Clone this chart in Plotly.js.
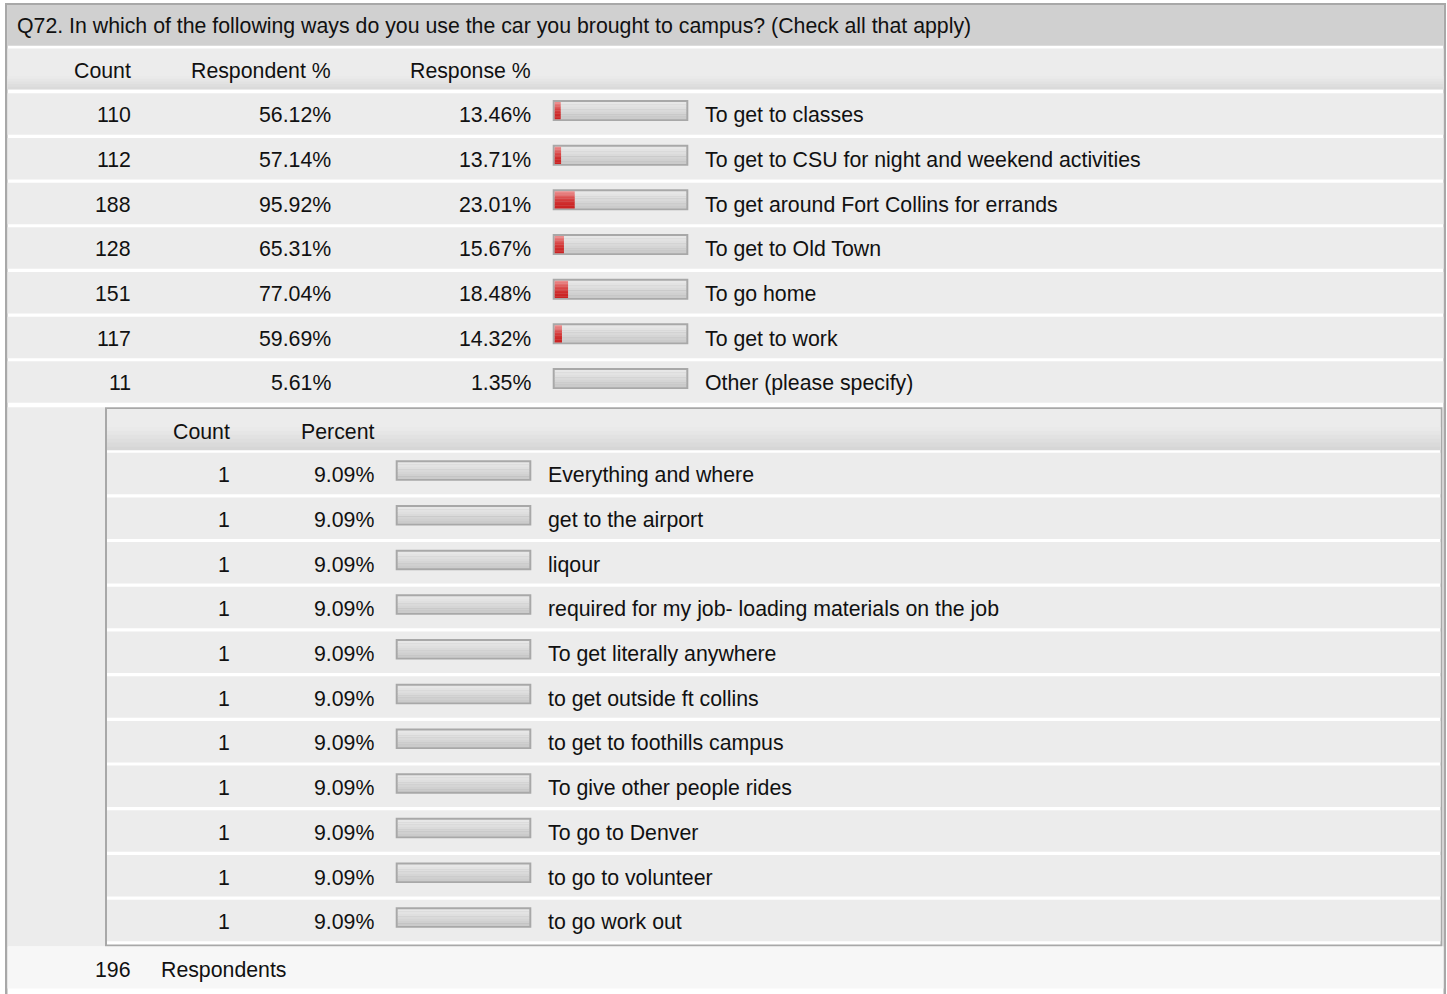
<!DOCTYPE html>
<html><head><meta charset="utf-8">
<script src="https://cdn.plot.ly/plotly-3.0.1.min.js"></script>
<style>html,body{margin:0;padding:0;background:#fff;}#chart{width:1447px;height:994px;}</style>
</head><body><div id="chart"></div>
<script>
// ---------------- data ----------------
const questionTitle = "Q72. In which of the following ways do you use the car you brought to campus? (Check all that apply)";
const mainHeaders = ["Count", "Respondent %", "Response %"];
const mainLabels = ["To get to classes", "To get to CSU for night and weekend activities", "To get around Fort Collins for errands", "To get to Old Town", "To go home", "To get to work", "Other (please specify)"];
const mainCounts = [110, 112, 188, 128, 151, 117, 11];
const respondentPct = [56.12, 57.14, 95.92, 65.31, 77.04, 59.69, 5.61];
const responsePct = [13.46, 13.71, 23.01, 15.67, 18.48, 14.32, 1.35];
const otherHeaders = ["Count", "Percent"];
const otherLabels = ["Everything and where", "get to the airport", "liqour", "required for my job- loading materials on the job", "To get literally anywhere", "to get outside ft collins", "to get to foothills campus", "To give other people rides", "To go to Denver", "to go to volunteer", "to go work out"];
const otherCounts = [1, 1, 1, 1, 1, 1, 1, 1, 1, 1, 1];
const otherPct = [9.09, 9.09, 9.09, 9.09, 9.09, 9.09, 9.09, 9.09, 9.09, 9.09, 9.09];
const respondentsTotal = 196;
const footerLabel = "Respondents";

// ---------------- layout helpers ----------------
const W = 1447, H = 994;
const px = x => x / W;
const py = y => 1 - y / H;
const FONT = {family: '"Liberation Sans", Arial, sans-serif', size: 21.3, color: '#111'};
const BORDER = '#a8a8a8';
const ROW = '#ececec';
const fmtPct = v => v.toFixed(2) + '%';

const shapes = [];
function rect(x0, y0, x1, y1, color) {
  shapes.push({type: 'rect', xref: 'paper', yref: 'paper', layer: 'below',
    x0: px(x0), x1: px(x1), y0: py(y1), y1: py(y0), fillcolor: color, line: {width: 0}});
}
function gradRect(x0, y0, x1, y1, colors) {
  const h = (y1 - y0) / colors.length;
  colors.forEach((c, k) => rect(x0, y0 + k * h, x1, y0 + (k + 1) * h + 0.3, c));
}

// outer frame
rect(5, 3, 1446, 994, BORDER);
rect(7.5, 5, 1443.5, 994, '#ffffff');
// title band
rect(7.5, 5, 1443.5, 45.7, '#d0d0d0');
// header band
rect(7.5, 48.5, 1443.5, 89.3, ROW);
gradRect(7.5, 76, 1443.5, 89.3, ['#eaeaea', '#e6e6e6', '#e2e2e2', '#dedede', '#dadada']);

const mainPitch = 44.67, mainTop = 93.3, band = 41.5;
mainLabels.forEach((_, i) => rect(7.5, mainTop + i * mainPitch, 1443.5, mainTop + i * mainPitch + band, ROW));

// nested block
rect(7.5, 407.3, 105, 946.5, ROW);
rect(105, 407.3, 1442.5, 946.5, BORDER);
rect(107, 409.3, 1440.5, 944.5, '#ffffff');
rect(107, 409.3, 1440.5, 450, ROW);
gradRect(107, 427, 1440.5, 450, ['#eaeaea', '#e6e6e6', '#e2e2e2', '#dedede', '#dadada', '#d6d6d6']);
const subPitch = 44.7, subTop = 452.7;
otherLabels.forEach((_, j) => rect(107, subTop + j * subPitch, 1440.5, subTop + j * subPitch + band, ROW));

// footer
rect(7.5, 946.5, 1443.5, 988.5, '#f7f7f7');

// bar tracks (drawn on the bar axes)
const grayStripes = ['#e7e7e7', '#e3e3e3', '#dfdfdf', '#dadada', '#d5d5d5', '#d0d0d0', '#cbcbcb'];
const redStripes = ['#eb8c8c', '#e77c7c', '#e36c6c', '#df5e5e', '#db5050', '#d74444', '#d43a3a', '#d13232', '#cf2c2c', '#cd2828', '#cc2525', '#cb2323'];
function tracks(xa, ya, n, pitch, innerPx, outerPx, widthPx) {
  const hi = innerPx / pitch, ho = outerPx / pitch, ex = 2 / widthPx;
  for (let i = 0; i < n; i++) {
    shapes.push({type: 'rect', xref: xa + ' domain', yref: ya, layer: 'below',
      x0: -ex, x1: 1 + ex, y0: i - ho / 2, y1: i + ho / 2, fillcolor: BORDER, line: {width: 0}});
    const s = hi / grayStripes.length;
    grayStripes.forEach((c, k) => shapes.push({type: 'rect', xref: xa + ' domain', yref: ya, layer: 'below',
      x0: 0, x1: 1, y0: i - hi / 2 + k * s, y1: i - hi / 2 + (k + 1) * s + 0.005, fillcolor: c, line: {width: 0}}));
  }
  return hi;
}
const mainInner = tracks('x', 'y', mainLabels.length, mainPitch, 17, 21, 131.6);
const subInner = tracks('x2', 'y2', otherLabels.length, subPitch, 16.5, 20.5, 131.6);

function redTraces(values, cats, xa, ya, hi) {
  const s = hi / redStripes.length;
  return redStripes.map((c, k) => ({
    type: 'bar', orientation: 'h', x: values, y: cats, xaxis: xa, yaxis: ya,
    width: s + 0.006, offset: -hi / 2 + k * s, base: 0,
    marker: {color: c, line: {width: 0}}, hoverinfo: 'skip', showlegend: false
  }));
}
const traces = [
  ...redTraces(responsePct, mainLabels, 'x', 'y', mainInner),
  ...redTraces(otherPct, otherLabels, 'x2', 'y2', subInner)
];

// ---------------- text ----------------
const ann = [];
const base = {showarrow: false, font: FONT, borderpad: 0, borderwidth: 0, yanchor: 'middle'};
function txt(text, x, y, anchor) {
  ann.push(Object.assign({}, base, {text: String(text), x: px(x), xref: 'paper', y: py(y), yref: 'paper', xanchor: anchor}));
}
function rowTxt(text, x, idx, yref, anchor) {
  ann.push(Object.assign({}, base, {text: String(text), x: px(x), xref: 'paper', y: idx, yref: yref, yshift: -4.7, xanchor: anchor}));
}
txt(questionTitle, 17, 25.8, 'left');
txt(mainHeaders[0], 131, 70.6, 'right');
txt(mainHeaders[1], 331, 70.6, 'right');
txt(mainHeaders[2], 531, 70.6, 'right');
mainLabels.forEach((lab, i) => {
  rowTxt(mainCounts[i], 131, i, 'y', 'right');
  rowTxt(fmtPct(respondentPct[i]), 331, i, 'y', 'right');
  rowTxt(fmtPct(responsePct[i]), 531, i, 'y', 'right');
  rowTxt(lab, 705, i, 'y', 'left');
});
txt(otherHeaders[0], 230, 431.6, 'right');
txt(otherHeaders[1], 374, 431.6, 'right');
otherLabels.forEach((lab, j) => {
  rowTxt(otherCounts[j], 229.5, j, 'y2', 'right');
  rowTxt(fmtPct(otherPct[j]), 374, j, 'y2', 'right');
  rowTxt(lab, 548, j, 'y2', 'left');
});
txt(respondentsTotal, 131, 969.6, 'right');
txt(footerLabel, 161, 969.6, 'left');

// ---------------- axes ----------------
const xRange = [9.37, 99.1];
const hidden = {visible: false, showgrid: false, zeroline: false, fixedrange: true};
const mainBarCenter = 110.5, subBarCenter = 470.5;
const layout = {
  width: W, height: H, margin: {l: 0, r: 0, t: 0, b: 0},
  paper_bgcolor: '#ffffff', plot_bgcolor: 'rgba(0,0,0,0)',
  barmode: 'overlay', showlegend: false, font: FONT,
  xaxis: Object.assign({domain: [px(554.7), px(686.3)], range: xRange, anchor: 'y'}, hidden),
  yaxis: Object.assign({type: 'category', anchor: 'x', range: [mainLabels.length - 0.5, -0.5],
    domain: [py(mainBarCenter + (mainLabels.length - 0.5) * mainPitch), py(mainBarCenter - 0.5 * mainPitch)]}, hidden),
  xaxis2: Object.assign({domain: [px(397.7), px(529.3)], range: xRange, anchor: 'y2'}, hidden),
  yaxis2: Object.assign({type: 'category', anchor: 'x2', range: [otherLabels.length - 0.5, -0.5],
    domain: [py(subBarCenter + (otherLabels.length - 0.5) * subPitch), py(subBarCenter - 0.5 * subPitch)]}, hidden),
  shapes: shapes, annotations: ann
};
Plotly.newPlot('chart', traces, layout, {staticPlot: true, displayModeBar: false});
</script>
</body></html>
